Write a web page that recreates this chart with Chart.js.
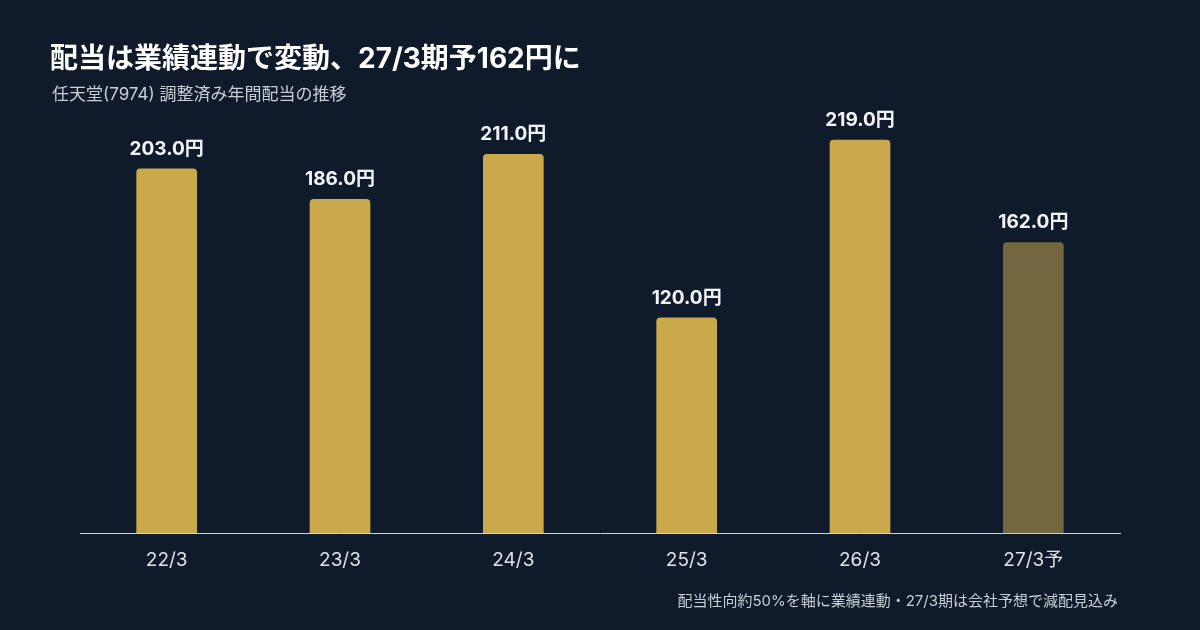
<!DOCTYPE html>
<html><head><meta charset="utf-8">
<script src="https://cdn.jsdelivr.net/npm/chart.js@4/dist/chart.umd.min.js"></script>
<style>
html,body{margin:0;padding:0;background:#0f1b2a;width:1200px;height:630px;overflow:hidden;font-family:Inter,"Noto Sans CJK JP",sans-serif;}
#t{position:absolute;left:50px;top:36px;color:#fff;font-size:28px;font-weight:700;}
#s{position:absolute;left:52px;top:80px;color:#c8ced6;font-size:17px;}
#n{position:absolute;right:82px;top:589px;color:#c8ced6;font-size:15px;}
#w{position:absolute;left:0;top:0;width:1200px;height:630px;}
</style></head><body>
<div id="w"><canvas id="c" width="1200" height="630"></canvas></div>
<div id="t">配当は業績連動で変動、27/3期予162円に</div>
<div id="s">任天堂(7974) 調整済み年間配当の推移</div>
<div id="n">配当性向約50%を軸に業績連動・27/3期は会社予想で減配見込み</div>
<script>
const categories=["22/3","23/3","24/3","25/3","26/3","27/3予"];
const dividends=[203.0,186.0,211.0,120.0,219.0,162.0];
const barColors=["#c9a94c","#c9a94c","#c9a94c","#c9a94c","#c9a94c","#74663e"];
const labelPlugin={id:"lbl",afterDatasetsDraw(ch){const ctx=ch.ctx;const m=ch.getDatasetMeta(0);ctx.save();ctx.fillStyle="#f2f4f7";ctx.font="700 19px Inter, 'Noto Sans CJK JP'";ctx.textAlign="center";ctx.textBaseline="bottom";m.data.forEach((b,i)=>{ctx.fillText(dividends[i].toFixed(1)+"円",b.x,b.y-10);});ctx.restore();}};
new Chart(document.getElementById("c"),{type:"bar",data:{labels:categories,datasets:[{data:dividends,backgroundColor:barColors,borderRadius:4,borderSkipped:"bottom",barPercentage:0.35,categoryPercentage:1}]},
options:{responsive:false,animation:false,devicePixelRatio:1,layout:{padding:{left:80,right:80,top:102,bottom:50}},plugins:{legend:{display:false},tooltip:{enabled:false}},
scales:{y:{display:false,min:0,max:240},x:{grid:{display:false},border:{color:"#cfd6de",width:1},ticks:{color:"#dfe3e8",font:{size:19,family:"Inter, 'Noto Sans CJK JP'"},padding:8}}}},plugins:[labelPlugin]});
</script></body></html>
